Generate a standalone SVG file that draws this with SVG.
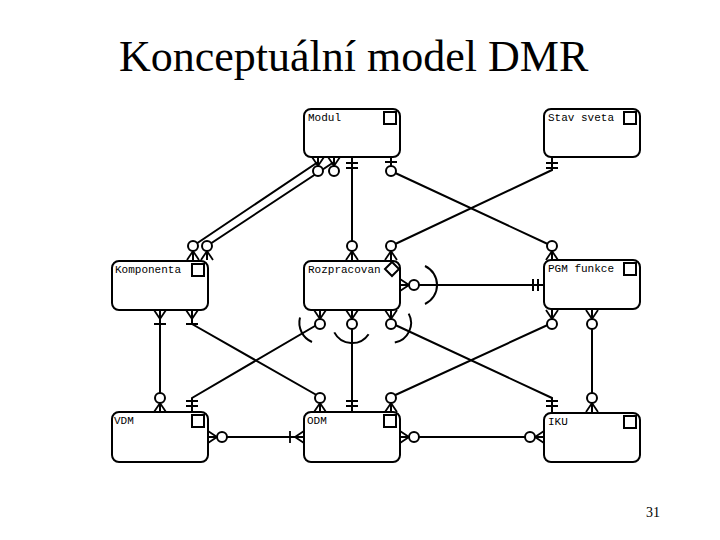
<svg xmlns="http://www.w3.org/2000/svg" width="720" height="540" viewBox="0 0 720 540">
<style>
.box{fill:#fff;stroke:#000;stroke-width:2}
.sq{fill:#fff;stroke:#000;stroke-width:2}
.lbl{font-family:"Liberation Mono","DejaVu Sans Mono",monospace;font-size:11px;fill:#000}
.ln{fill:none;stroke:#000;stroke-width:2}
.ttl{font-family:"Liberation Serif","Times New Roman",serif;font-size:44px;fill:#000}
.pg{font-family:"Liberation Serif","Times New Roman",serif;font-size:14px;fill:#000}
</style>
<defs>
<g id="cfo"><path d="M-6,0 L0,-9 L6,0 M0,0 V-9" fill="none" stroke="#000" stroke-width="1.8"/><circle cx="0" cy="-14" r="5" fill="#fff" stroke="#000" stroke-width="2"/></g>
<g id="cfb"><path d="M-6,0 L0,-9 L6,0 M0,0 V-9 M-6,-14 H6" fill="none" stroke="#000" stroke-width="1.8"/></g>
<g id="bb"><path d="M-6,-6 H6 M-6,-11 H6" fill="none" stroke="#000" stroke-width="2"/></g>
<g id="bo"><path d="M-6,-5 H6" fill="none" stroke="#000" stroke-width="2"/><circle cx="0" cy="-14" r="5" fill="#fff" stroke="#000" stroke-width="2"/></g>
</defs>
<rect width="720" height="540" fill="#fff"/>
<text class="ttl" x="119" y="71">Konceptuální model DMR</text>
<text class="pg" x="646" y="517">31</text>

<g id="connectors">
<path class="ln" d="M318,157 V162 L193,246 V260"/>
<path class="ln" d="M334,157 V162 L207,246 V260"/>
<path class="ln" d="M352,157 V260"/>
<path class="ln" d="M391,157 V171 L552,246 V260"/>
<path class="ln" d="M552,157 V170 L391,246 V260"/>
<path class="ln" d="M160,310 V412"/>
<path class="ln" d="M192,310 V324 L320,397 V412"/>
<path class="ln" d="M320,310 V323 L192,398 V412"/>
<path class="ln" d="M352,310 V412"/>
<path class="ln" d="M391,310 V323 L552,398 V412"/>
<path class="ln" d="M552,310 V323 L391,397 V412"/>
<path class="ln" d="M592,310 V412"/>
<path class="ln" d="M400,285 H544"/>
<path class="ln" d="M208,437 H304"/>
<path class="ln" d="M400,437 H544"/>
<!-- arcs -->
<path class="ln" d="M425,266 A21,21 0 0 1 425,304"/>
<path class="ln" d="M300,317.6 A21,21 0 0 0 312,342"/>
<path class="ln" d="M334.3,332.4 A20,20 0 0 0 368.6,334.2"/>
<path class="ln" d="M408.7,313.6 A20,20 0 0 1 394.8,342.6"/>
<!-- ends -->
<use href="#cfo" transform="translate(318,157) rotate(180)"/>
<use href="#cfo" transform="translate(334,157) rotate(180)"/>
<use href="#bb" transform="translate(352,157) rotate(180)"/>
<use href="#bo" transform="translate(391,157) rotate(180)"/>
<use href="#bb" transform="translate(552,157) rotate(180)"/>
<use href="#cfo" transform="translate(193,260)"/>
<use href="#cfo" transform="translate(207,260)"/>
<use href="#cfb" transform="translate(160,310) rotate(180)"/>
<use href="#cfb" transform="translate(192,310) rotate(180)"/>
<use href="#cfo" transform="translate(352,260)"/>
<use href="#cfo" transform="translate(391,260)"/>
<use href="#cfo" transform="translate(320,310) rotate(180)"/>
<use href="#cfo" transform="translate(352,310) rotate(180)"/>
<use href="#cfo" transform="translate(391,310) rotate(180)"/>
<use href="#cfo" transform="translate(400,285) rotate(90)"/>
<use href="#cfo" transform="translate(552,260)"/>
<use href="#bb" transform="translate(544,285) rotate(-90)"/>
<use href="#cfo" transform="translate(552,310) rotate(180)"/>
<use href="#cfo" transform="translate(592,310) rotate(180)"/>
<use href="#cfo" transform="translate(160,412)"/>
<use href="#bb" transform="translate(192,412)"/>
<use href="#cfo" transform="translate(208,437) rotate(90)"/>
<use href="#cfo" transform="translate(320,412)"/>
<use href="#bb" transform="translate(352,412)"/>
<use href="#cfo" transform="translate(391,412)"/>
<use href="#cfb" transform="translate(304,437) rotate(-90)"/>
<use href="#cfo" transform="translate(400,437) rotate(90)"/>
<use href="#bb" transform="translate(552,412)"/>
<use href="#cfo" transform="translate(592,412)"/>
<use href="#cfo" transform="translate(544,437) rotate(-90)"/>
</g>

<g id="modul"><rect class="box" x="304" y="109" width="96" height="48" rx="7"/><text class="lbl" x="308" y="121">Modul</text><rect class="sq" x="384" y="112" width="12" height="12"/></g>
<g id="stav-sveta"><rect class="box" x="544" y="109" width="96" height="48" rx="7"/><text class="lbl" x="548" y="121">Stav sveta</text><rect class="sq" x="624" y="112" width="12" height="12"/></g>
<g id="komponenta"><rect class="box" x="112" y="261" width="96" height="49" rx="7"/><text class="lbl" x="115" y="273">Komponenta</text><rect class="sq" x="192" y="264" width="12" height="12"/></g>
<g id="rozpracovan"><rect class="box" x="304" y="261" width="96" height="49" rx="7"/><text class="lbl" x="308" y="273">Rozpracovan</text><path d="M392,262 L399,269 L392,276 L385,269 Z" fill="#fff" stroke="#000" stroke-width="2"/></g>
<g id="pgm-funkce"><rect class="box" x="544" y="260" width="96" height="49" rx="7"/><text class="lbl" x="548" y="272">PGM funkce</text><rect class="sq" x="624" y="263" width="12" height="12"/></g>
<g id="vdm"><rect class="box" x="112" y="412" width="96" height="50" rx="7"/><text class="lbl" x="114" y="424">VDM</text><rect class="sq" x="192" y="415" width="12" height="12"/></g>
<g id="odm"><rect class="box" x="304" y="412" width="96" height="50" rx="7"/><text class="lbl" x="307" y="424">ODM</text><rect class="sq" x="384" y="415" width="12" height="12"/></g>
<g id="iku"><rect class="box" x="544" y="413" width="96" height="49" rx="7"/><text class="lbl" x="548" y="425">IKU</text><rect class="sq" x="624" y="416" width="12" height="12"/></g>
</svg>
